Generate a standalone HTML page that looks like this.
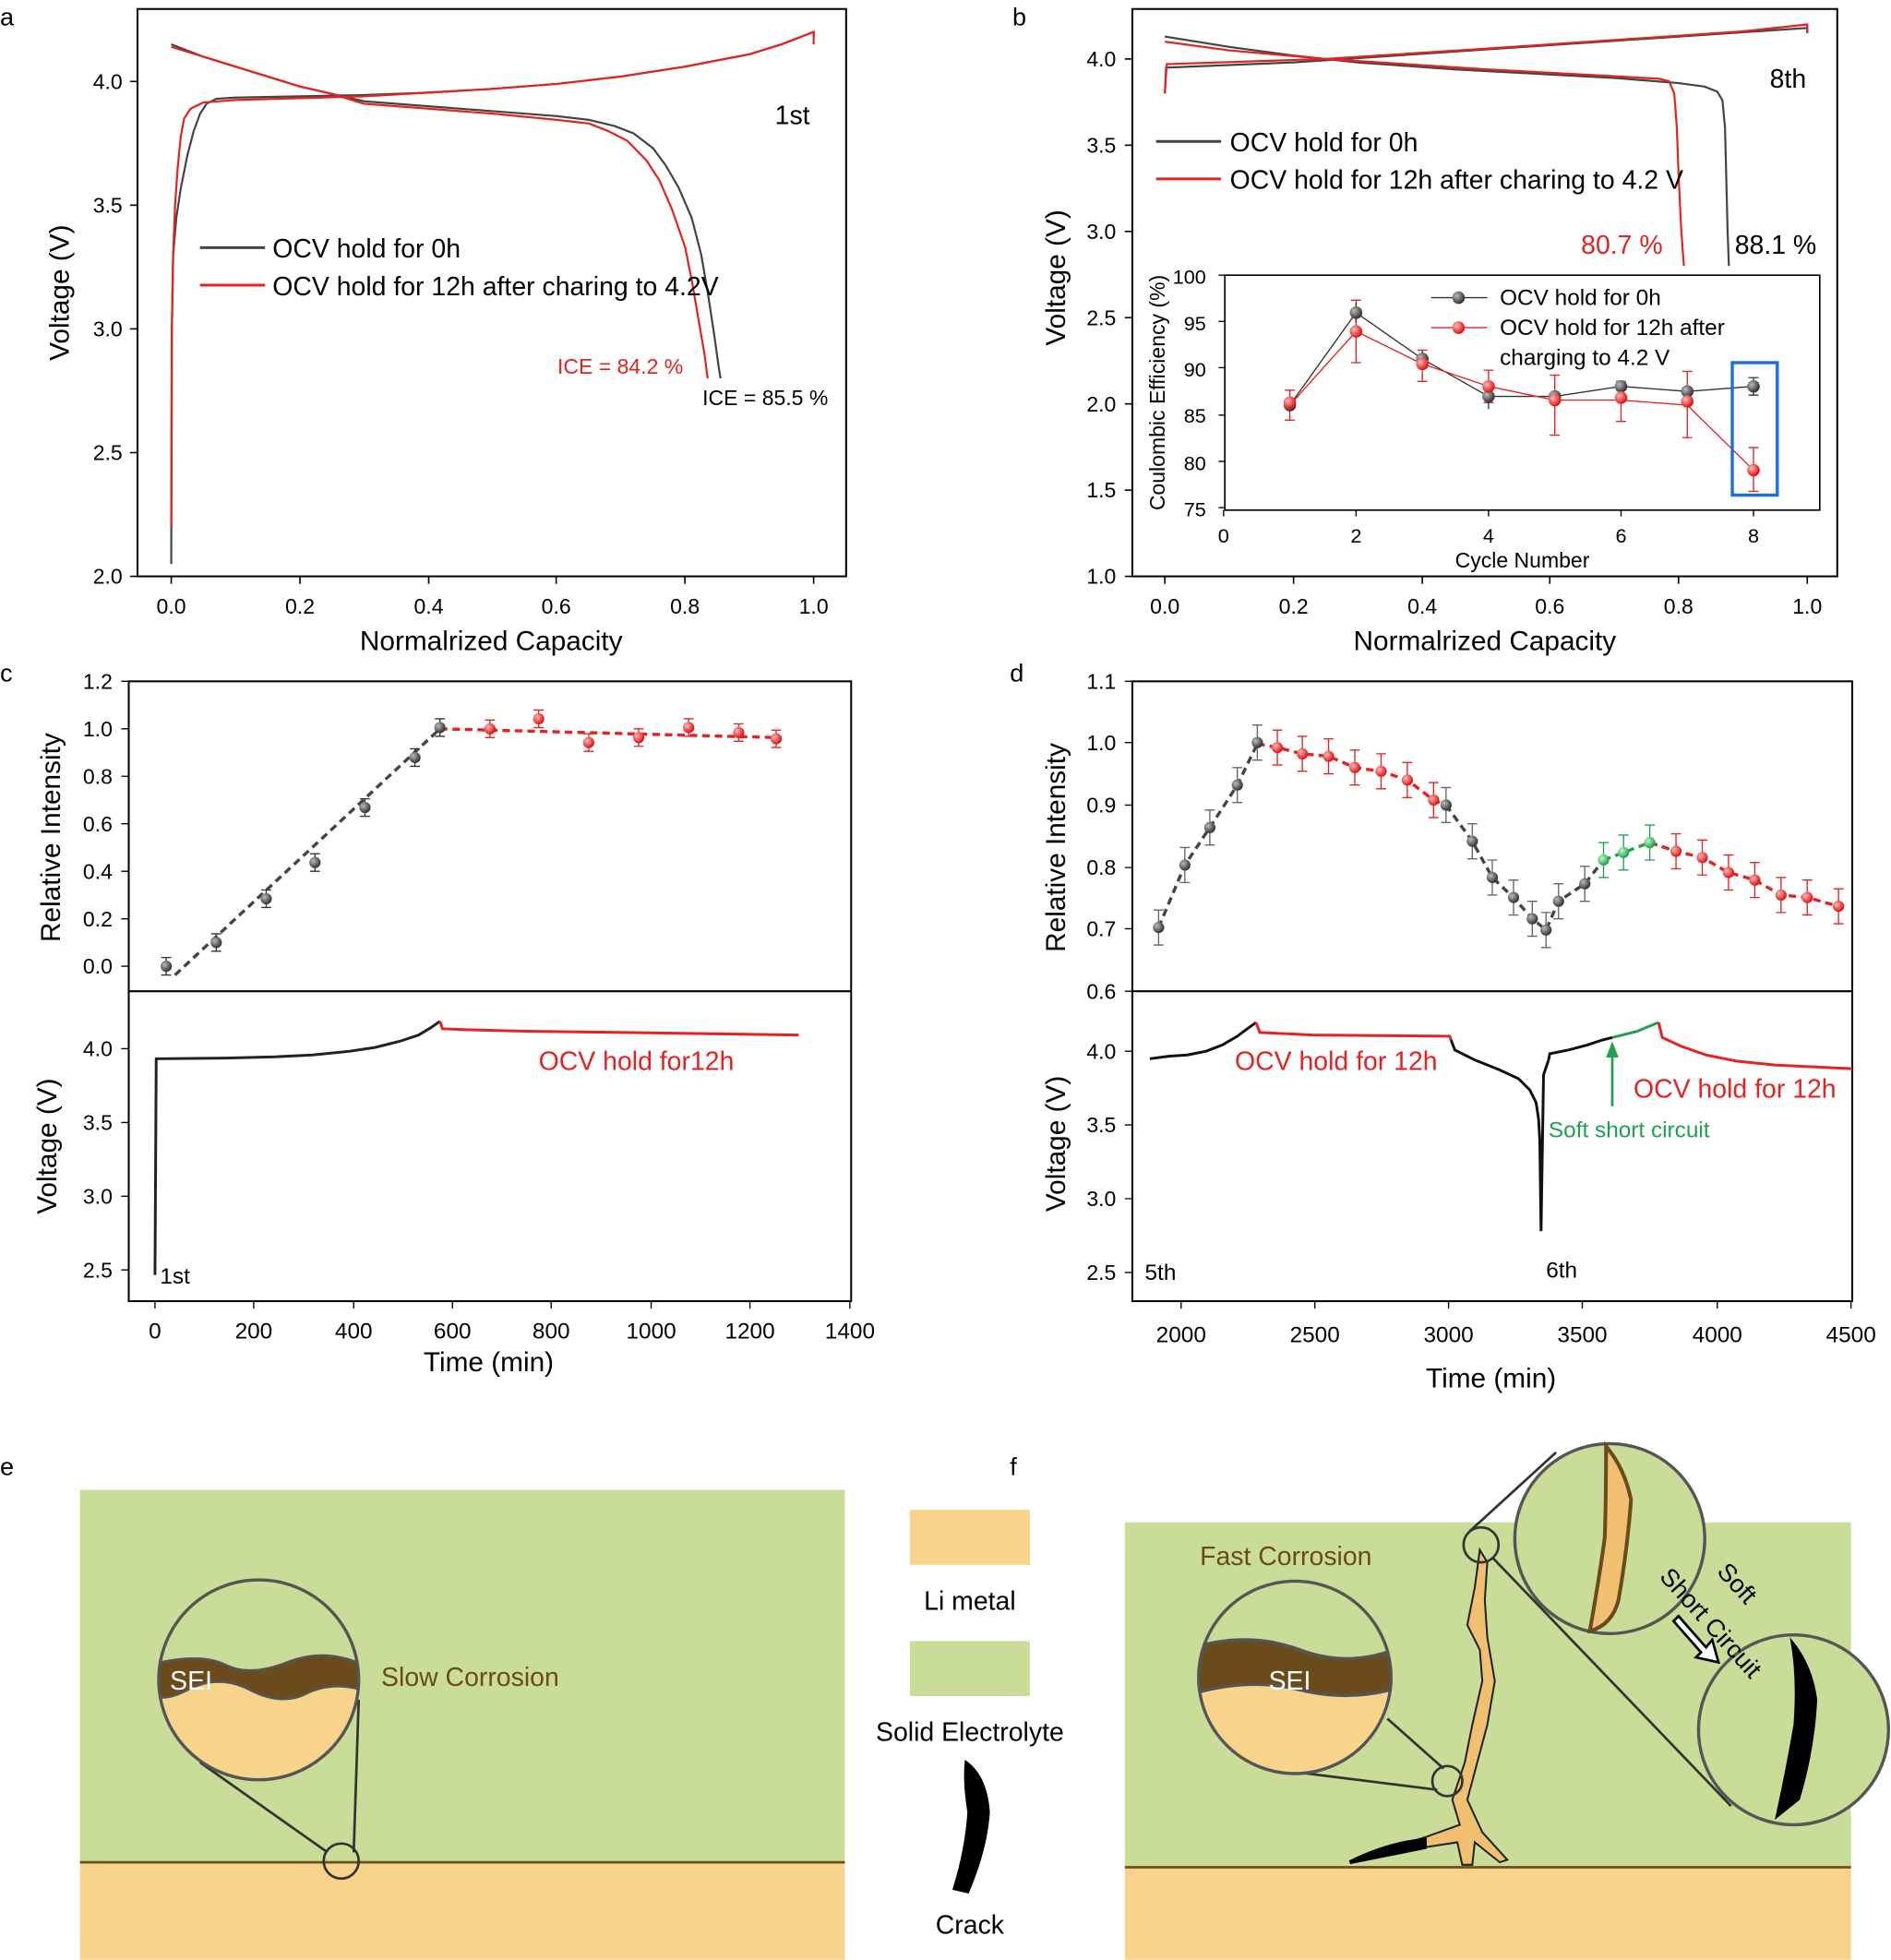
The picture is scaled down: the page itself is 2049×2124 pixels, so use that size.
<!DOCTYPE html>
<html><head><meta charset="utf-8"><style>
html,body{margin:0;padding:0;background:#fff}
svg{display:block}
text{font-family:"Liberation Sans",sans-serif}
.ser{font-family:"Liberation Serif",serif}
</style></head><body>
<svg width="2049" height="2124" viewBox="0 0 1513 1568" xmlns="http://www.w3.org/2000/svg">
<defs>
<radialGradient id="gb" cx="35%" cy="35%" r="65%"><stop offset="0" stop-color="#bbb"/><stop offset="1" stop-color="#333"/></radialGradient>
<radialGradient id="gr" cx="35%" cy="35%" r="65%"><stop offset="0" stop-color="#fbb"/><stop offset="1" stop-color="#e01010"/></radialGradient>
<radialGradient id="gg" cx="35%" cy="35%" r="65%"><stop offset="0" stop-color="#bfb"/><stop offset="1" stop-color="#20a050"/></radialGradient>
</defs>
<g font-size="20">
<text x="0" y="20">a</text><text x="810" y="20">b</text><text x="0" y="545">c</text><text x="808" y="545">d</text>
<text x="0" y="1180">e</text><text x="808" y="1180">f</text>

<!-- Panel a -->
<rect x="110" y="7" width="567" height="454" fill="none" stroke="#000" stroke-width="1.5"/>
<g stroke="#000" stroke-width="1.2">
<line x1="137" y1="461" x2="137" y2="467"/><line x1="240" y1="461" x2="240" y2="467"/><line x1="343" y1="461" x2="343" y2="467"/><line x1="445" y1="461" x2="445" y2="467"/><line x1="548" y1="461" x2="548" y2="467"/><line x1="651" y1="461" x2="651" y2="467"/>
<line x1="104" y1="461" x2="110" y2="461"/><line x1="104" y1="362" x2="110" y2="362"/><line x1="104" y1="263" x2="110" y2="263"/><line x1="104" y1="164" x2="110" y2="164"/><line x1="104" y1="65" x2="110" y2="65"/>
</g>
<g class="ser" font-size="17" text-anchor="middle"><text x="137" y="491">0.0</text><text x="240" y="491">0.2</text><text x="343" y="491">0.4</text><text x="445" y="491">0.6</text><text x="548" y="491">0.8</text><text x="651" y="491">1.0</text></g>
<g font-size="17" text-anchor="end"><text x="98" y="467">2.0</text><text x="98" y="368">2.5</text><text x="98" y="269">3.0</text><text x="98" y="170">3.5</text><text x="98" y="71">4.0</text></g>
<text x="393" y="520" text-anchor="middle" font-size="22">Normalrized Capacity</text>
<text transform="translate(55,234) rotate(-90)" text-anchor="middle" font-size="22">Voltage (V)</text>
<g fill="none" transform="matrix(514 0 0 -198 137 857)">
<polyline vector-effect="non-scaling-stroke" stroke-width="2.2" stroke="#444" points="0,2.05 0.001,3.0 0.003,3.3 0.008,3.45 0.015,3.57 0.025,3.7 0.035,3.8 0.045,3.87 0.055,3.91 0.07,3.93 0.1,3.935 0.3,3.945 0.4,3.955 0.5,3.97 0.6,3.99 0.7,4.02 0.8,4.06 0.9,4.11 0.95,4.15 1.0,4.2 1.0,4.18"/>
<polyline vector-effect="non-scaling-stroke" stroke-width="2.2" stroke="#444" points="0,4.15 0.05,4.1 0.1,4.06 0.15,4.02 0.2,3.98 0.25,3.95 0.3,3.92 0.4,3.9 0.5,3.88 0.6,3.86 0.65,3.845 0.69,3.82 0.72,3.79 0.75,3.73 0.77,3.66 0.79,3.57 0.81,3.45 0.825,3.3 0.835,3.15 0.845,2.98 0.852,2.85 0.855,2.8"/>
<polyline vector-effect="non-scaling-stroke" stroke-width="2.2" stroke="#e52222" points="0,2.2 0.001,3.0 0.003,3.3 0.006,3.5 0.01,3.65 0.015,3.78 0.02,3.85 0.03,3.89 0.05,3.915 0.1,3.925 0.3,3.94 0.4,3.955 0.5,3.97 0.6,3.99 0.7,4.02 0.8,4.06 0.9,4.11 0.95,4.15 1.0,4.2 1.0,4.15"/>
<polyline vector-effect="non-scaling-stroke" stroke-width="2.2" stroke="#e52222" points="0,4.14 0.05,4.1 0.1,4.06 0.15,4.02 0.2,3.98 0.25,3.95 0.3,3.91 0.4,3.89 0.5,3.87 0.6,3.845 0.65,3.83 0.68,3.8 0.71,3.76 0.74,3.68 0.76,3.6 0.78,3.48 0.8,3.33 0.81,3.2 0.82,3.05 0.83,2.9 0.835,2.8"/>
</g>
<text x="620" y="99" font-size="21">1st</text>
<line x1="160" y1="198" x2="212" y2="198" stroke="#444" stroke-width="2.2"/><text x="218" y="206" font-size="21">OCV hold for 0h</text>
<line x1="160" y1="228" x2="212" y2="228" stroke="#e52222" stroke-width="2.2"/><text x="218" y="236" font-size="21">OCV hold for 12h after charing to 4.2V</text>
<text x="446" y="299" font-size="17" fill="#e52222">ICE = 84.2 %</text>
<text x="562" y="324" font-size="17">ICE = 85.5 %</text>

<!-- Panel b -->
<rect x="906" y="7" width="564" height="454" fill="none" stroke="#000" stroke-width="1.5"/>
<g stroke="#000" stroke-width="1.2">
<line x1="932" y1="461" x2="932" y2="467"/><line x1="1035" y1="461" x2="1035" y2="467"/><line x1="1138" y1="461" x2="1138" y2="467"/><line x1="1240" y1="461" x2="1240" y2="467"/><line x1="1343" y1="461" x2="1343" y2="467"/><line x1="1446" y1="461" x2="1446" y2="467"/>
<line x1="900" y1="461" x2="906" y2="461"/><line x1="900" y1="392" x2="906" y2="392"/><line x1="900" y1="323" x2="906" y2="323"/><line x1="900" y1="254" x2="906" y2="254"/><line x1="900" y1="185" x2="906" y2="185"/><line x1="900" y1="116" x2="906" y2="116"/><line x1="900" y1="47" x2="906" y2="47"/>
</g>
<g font-size="17" text-anchor="middle"><text x="932" y="491">0.0</text><text x="1035" y="491">0.2</text><text x="1138" y="491">0.4</text><text x="1240" y="491">0.6</text><text x="1343" y="491">0.8</text><text x="1446" y="491">1.0</text></g>
<g font-size="17" text-anchor="end"><text x="893" y="467">1.0</text><text x="893" y="398">1.5</text><text x="893" y="329">2.0</text><text x="893" y="260">2.5</text><text x="893" y="191">3.0</text><text x="893" y="122">3.5</text><text x="893" y="53">4.0</text></g>
<text x="1188" y="520" text-anchor="middle" font-size="22">Normalrized Capacity</text>
<text transform="translate(852,222) rotate(-90)" text-anchor="middle" font-size="22">Voltage (V)</text>
<g fill="none" transform="matrix(514 0 0 -138 932 599)">
<polyline vector-effect="non-scaling-stroke" stroke-width="2.2" stroke="#444" points="0,3.8 0.002,3.95 0.2,3.98 0.4,4.03 0.6,4.08 0.8,4.13 1.0,4.18 1.0,4.15"/>
<polyline vector-effect="non-scaling-stroke" stroke-width="2.2" stroke="#444" points="0,4.13 0.05,4.1 0.1,4.07 0.2,4.02 0.3,3.98 0.45,3.94 0.6,3.91 0.7,3.89 0.8,3.86 0.84,3.84 0.86,3.81 0.868,3.76 0.872,3.6 0.874,3.3 0.876,3.0 0.878,2.8"/>
<polyline vector-effect="non-scaling-stroke" stroke-width="2.2" stroke="#e52222" points="0,3.8 0.003,3.97 0.25,4.0 0.5,4.06 0.7,4.11 0.9,4.16 1.0,4.2 1.0,4.15"/>
<polyline vector-effect="non-scaling-stroke" stroke-width="2.2" stroke="#e52222" points="0,4.1 0.1,4.05 0.25,4.0 0.5,3.94 0.7,3.9 0.77,3.885 0.785,3.87 0.793,3.8 0.797,3.6 0.8,3.3 0.804,3.0 0.808,2.8"/>
</g>
<text x="1416" y="70" font-size="21">8th</text>
<line x1="925" y1="113" x2="977" y2="113" stroke="#444" stroke-width="2.2"/><text x="984" y="121" font-size="21">OCV hold for 0h</text>
<line x1="925" y1="143" x2="977" y2="143" stroke="#e52222" stroke-width="2.2"/><text x="984" y="151" font-size="21">OCV hold for 12h after charing to 4.2 V</text>
<text x="1265" y="203" fill="#e52222" font-size="21">80.7 %</text><text x="1388" y="203" font-size="21">88.1 %</text>
<!-- inset -->
<rect x="980" y="220" width="476" height="188" fill="#fff" stroke="#000" stroke-width="1.2"/>
<g stroke="#000"><line x1="979" y1="408" x2="979" y2="413"/><line x1="1085" y1="408" x2="1085" y2="413"/><line x1="1191" y1="408" x2="1191" y2="413"/><line x1="1297" y1="408" x2="1297" y2="413"/><line x1="1403" y1="408" x2="1403" y2="413"/></g>
<g font-size="16" text-anchor="middle"><text x="979" y="434">0</text><text x="1085" y="434">2</text><text x="1191" y="434">4</text><text x="1297" y="434">6</text><text x="1403" y="434">8</text></g>
<text x="1218" y="454" font-size="17" text-anchor="middle">Cycle Number</text>
<g font-size="16" text-anchor="end"><text x="965" y="227">100</text><text x="965" y="264">95</text><text x="965" y="301">90</text><text x="965" y="338">85</text><text x="965" y="376">80</text><text x="965" y="413">75</text></g>
<g stroke="#000"><line x1="975" y1="220" x2="980" y2="220"/><line x1="975" y1="257" x2="980" y2="257"/><line x1="975" y1="294" x2="980" y2="294"/><line x1="975" y1="332" x2="980" y2="332"/><line x1="975" y1="369" x2="980" y2="369"/><line x1="975" y1="406" x2="980" y2="406"/></g>
<text transform="translate(932,314) rotate(-90)" text-anchor="middle" font-size="17">Coulombic Efficiency (%)</text>
<polyline fill="none" stroke="#333" stroke-width="1" points="1032,324 1085,250 1138,287 1191,317 1244,317 1297,309 1350,313 1403,309"/>
<polyline fill="none" stroke="#e52222" stroke-width="1" points="1032,324 1085,265 1138,291 1191,309 1244,320 1297,320 1350,324 1403,376"/>
<g stroke="#e52222" stroke-width="1"><path d="M1032 312V336M1085 240V290M1138 280V305M1191 296V322M1244 300V348M1297 305V337M1350 297V350M1403 358V393M1028 312H1036M1028 336H1036M1081 240H1089M1081 290H1089M1134 280H1142M1134 305H1142M1187 296H1195M1187 322H1195M1240 300H1248M1240 348H1248M1293 305H1301M1293 337H1301M1346 297H1354M1346 350H1354M1399 358H1407M1399 393H1407"/></g>
<g stroke="#333"><path d="M1085 242V258M1138 281V293M1191 308V327M1403 302V316M1399 302H1407M1399 316H1407"/></g>
<g fill="url(#gb)"><circle cx="1032" cy="324" r="5"/><circle cx="1085" cy="250" r="5"/><circle cx="1138" cy="287" r="5"/><circle cx="1191" cy="317" r="5"/><circle cx="1244" cy="317" r="5"/><circle cx="1297" cy="309" r="5"/><circle cx="1350" cy="313" r="5"/><circle cx="1403" cy="309" r="5"/></g>
<g fill="url(#gr)"><circle cx="1032" cy="322" r="5"/><circle cx="1085" cy="265" r="5"/><circle cx="1138" cy="291" r="5"/><circle cx="1191" cy="309" r="5"/><circle cx="1244" cy="320" r="5"/><circle cx="1297" cy="318" r="5"/><circle cx="1350" cy="321" r="5"/><circle cx="1403" cy="376" r="5"/></g>
<rect x="1386" y="290" width="36" height="106" fill="none" stroke="#1a6ee0" stroke-width="2.5"/>
<line x1="1145" y1="238" x2="1190" y2="238" stroke="#333"/><circle cx="1167" cy="238" r="5" fill="url(#gb)"/><text x="1200" y="244" font-size="18">OCV hold for 0h</text>
<line x1="1145" y1="262" x2="1190" y2="262" stroke="#e52222"/><circle cx="1167" cy="262" r="5" fill="url(#gr)"/><text x="1200" y="268" font-size="18">OCV hold for 12h after</text>
<text x="1200" y="292" font-size="18">charging to 4.2 V</text>

<!-- Panel c -->
<rect x="103" y="545" width="578" height="496" fill="none" stroke="#000" stroke-width="1.5"/>
<line x1="103" y1="793" x2="681" y2="793" stroke="#000" stroke-width="1.5"/>
<g stroke="#000"><path d="M97 545H103M97 583H103M97 621H103M97 659H103M97 697H103M97 735H103M97 773H103M97 839H103M97 898H103M97 957H103M97 1016H103"/>
<path d="M124 1041V1047M203 1041V1047M283 1041V1047M362 1041V1047M441 1041V1047M521 1041V1047M600 1041V1047M680 1041V1047"/></g>
<g class="ser" font-size="17" text-anchor="end"><text x="90" y="551">1.2</text><text x="90" y="589">1.0</text><text x="90" y="627">0.8</text><text x="90" y="665">0.6</text><text x="90" y="703">0.4</text><text x="90" y="741">0.2</text><text x="90" y="779">0.0</text></g>
<g font-size="17" text-anchor="end"><text x="90" y="845">4.0</text><text x="90" y="904">3.5</text><text x="90" y="963">3.0</text><text x="90" y="1022">2.5</text></g>
<g font-size="18" text-anchor="middle"><text x="124" y="1071">0</text><text x="203" y="1071">200</text><text x="283" y="1071">400</text><text x="362" y="1071">600</text><text x="441" y="1071">800</text><text x="521" y="1071">1000</text><text x="600" y="1071">1200</text><text x="680" y="1071">1400</text></g>
<text x="391" y="1097" text-anchor="middle" font-size="22">Time (min)</text>
<text transform="translate(48,670) rotate(-90)" text-anchor="middle" font-size="22">Relative Intensity</text>
<text transform="translate(45,917) rotate(-90)" text-anchor="middle" font-size="22">Voltage (V)</text>
<line x1="140" y1="780" x2="352" y2="583" stroke="#444" stroke-width="2.5" stroke-dasharray="6,4"/>
<line x1="352" y1="583" x2="621" y2="590" stroke="#e52222" stroke-width="2.5" stroke-dasharray="6,4"/>
<g stroke="#333" stroke-width="1"><path d="M133 766V780M129 766H137M129 780H137M173 747V761M169 747H177M169 761H177M213 712V726M209 712H217M209 726H217M252 683V697M248 683H256M248 697H256M292 639V653M288 639H296M288 653H296M332 599V613M328 599H336M328 613H336M352 575V589M348 575H356M348 589H356"/></g>
<g stroke="#e52222" stroke-width="1"><path d="M392 576V590M388 576H396M388 590H396M431 568V582M427 568H435M427 582H435M471 587V601M467 587H475M467 601H475M511 583V597M507 583H515M507 597H515M551 575V589M547 575H555M547 589H555M591 579V593M587 579H595M587 593H595M621 584V598M617 584H625M617 598H625"/></g>
<g fill="url(#gb)"><circle cx="133" cy="773" r="4.5"/><circle cx="173" cy="754" r="4.5"/><circle cx="213" cy="719" r="4.5"/><circle cx="252" cy="690" r="4.5"/><circle cx="292" cy="646" r="4.5"/><circle cx="332" cy="606" r="4.5"/><circle cx="352" cy="582" r="4.5"/></g>
<g fill="url(#gr)"><circle cx="392" cy="583" r="4.5"/><circle cx="431" cy="575" r="4.5"/><circle cx="471" cy="594" r="4.5"/><circle cx="511" cy="590" r="4.5"/><circle cx="551" cy="582" r="4.5"/><circle cx="591" cy="586" r="4.5"/><circle cx="621" cy="591" r="4.5"/></g>
<polyline fill="none" stroke="#222" stroke-width="2.2" points="124,1020 125,847 130,847 180,846.5 220,845.5 250,844 280,841 300,838 320,833 335,828 345,822 352,817"/>
<polyline fill="none" stroke="#e52222" stroke-width="2.2" points="352,817 354,823 380,824 420,825 500,826 639,828"/>
<text x="431" y="856" fill="#e52222" font-size="21">OCV hold for12h</text>
<text x="128" y="1027" font-size="18">1st</text>

<!-- Panel d -->
<rect x="906" y="545" width="576" height="496" fill="none" stroke="#000" stroke-width="1.5"/>
<line x1="906" y1="793" x2="1482" y2="793" stroke="#000" stroke-width="1.5"/>
<g stroke="#000"><path d="M900 545H906M900 594H906M900 644H906M900 694H906M900 743H906M900 793H906M900 841H906M900 900H906M900 959H906M900 1018H906"/>
<path d="M945 1041V1047M1052 1041V1047M1159 1041V1047M1266 1041V1047M1374 1041V1047M1481 1041V1047"/></g>
<g font-size="17" text-anchor="end"><text x="893" y="551">1.1</text><text x="893" y="600">1.0</text><text x="893" y="650">0.9</text><text x="893" y="700">0.8</text><text x="893" y="749">0.7</text><text x="893" y="799">0.6</text><text x="893" y="847">4.0</text><text x="893" y="906">3.5</text><text x="893" y="965">3.0</text><text x="893" y="1024">2.5</text></g>
<g font-size="18" text-anchor="middle"><text x="945" y="1074">2000</text><text x="1052" y="1074">2500</text><text x="1159" y="1074">3000</text><text x="1266" y="1074">3500</text><text x="1374" y="1074">4000</text><text x="1481" y="1074">4500</text></g>
<text x="1193" y="1110" text-anchor="middle" font-size="22">Time (min)</text>
<text transform="translate(852,678) rotate(-90)" text-anchor="middle" font-size="22">Relative Intensity</text>
<text transform="translate(852,915) rotate(-90)" text-anchor="middle" font-size="22">Voltage (V)</text>
<g stroke="#666" stroke-width="1"><path d="M927 728V756M948 678V706M968 648V676M990 614V642M1006 580V608M1157 630V658M1178 659V687M1194 688V716M1211 704V732M1226 721V749M1237 730V758M1247 707V735M1268 693V721"/>
<path d="M923 728H931M923 756H931M944 678H952M944 706H952M964 648H972M964 676H972M986 614H994M986 642H994M1002 580H1010M1002 608H1010M1153 630H1161M1153 658H1161M1174 659H1182M1174 687H1182M1190 688H1198M1190 716H1198M1207 704H1215M1207 732H1215M1222 721H1230M1222 749H1230M1233 730H1241M1233 758H1241M1243 707H1251M1243 735H1251M1264 693H1272M1264 721H1272"/></g>
<g stroke="#e52222" stroke-width="1"><path d="M1022 584V612M1042 589V617M1063 591V619M1084 600V628M1105 603V631M1126 610V638M1147 626V654M1341 667V695M1362 672V700M1383 684V712M1404 690V718M1425 702V730M1446 704V732M1471 711V739"/>
<path d="M1018 584H1026M1018 612H1026M1038 589H1046M1038 617H1046M1059 591H1067M1059 619H1067M1080 600H1088M1080 628H1088M1101 603H1109M1101 631H1109M1122 610H1130M1122 638H1130M1143 626H1151M1143 654H1151M1337 667H1345M1337 695H1345M1358 672H1366M1358 700H1366M1379 684H1387M1379 712H1387M1400 690H1408M1400 718H1408M1421 702H1429M1421 730H1429M1442 704H1450M1442 732H1450M1467 711H1475M1467 739H1475"/></g>
<g stroke="#20a050" stroke-width="1"><path d="M1283 674V702M1299 668V696M1320 660V688M1279 674H1287M1279 702H1287M1295 668H1303M1295 696H1303M1316 660H1324M1316 688H1324"/></g>
<polyline fill="none" stroke="#444" stroke-width="2.5" stroke-dasharray="6,4" points="927,742 948,692 968,662 990,628 1006,595"/>
<polyline fill="none" stroke="#e52222" stroke-width="2.5" stroke-dasharray="6,4" points="1006,595 1022,598 1042,603 1063,605 1084,614 1105,617 1126,624 1147,640 1157,644"/>
<polyline fill="none" stroke="#444" stroke-width="2.5" stroke-dasharray="6,4" points="1157,644 1178,673 1194,702 1211,718 1226,735 1237,744 1247,721 1268,707 1283,688"/>
<polyline fill="none" stroke="#20a050" stroke-width="2.5" stroke-dasharray="6,4" points="1283,688 1299,682 1320,674 1341,681"/>
<polyline fill="none" stroke="#e52222" stroke-width="2.5" stroke-dasharray="6,4" points="1320,674 1341,681 1362,686 1383,698 1404,704 1425,716 1446,718 1471,725"/>
<g fill="url(#gb)"><circle cx="927" cy="742" r="4.5"/><circle cx="948" cy="692" r="4.5"/><circle cx="968" cy="662" r="4.5"/><circle cx="990" cy="628" r="4.5"/><circle cx="1006" cy="594" r="4.5"/><circle cx="1157" cy="644" r="4.5"/><circle cx="1178" cy="673" r="4.5"/><circle cx="1194" cy="702" r="4.5"/><circle cx="1211" cy="718" r="4.5"/><circle cx="1226" cy="735" r="4.5"/><circle cx="1237" cy="744" r="4.5"/><circle cx="1247" cy="721" r="4.5"/><circle cx="1268" cy="707" r="4.5"/></g>
<g fill="url(#gr)"><circle cx="1022" cy="598" r="4.5"/><circle cx="1042" cy="603" r="4.5"/><circle cx="1063" cy="605" r="4.5"/><circle cx="1084" cy="614" r="4.5"/><circle cx="1105" cy="617" r="4.5"/><circle cx="1126" cy="624" r="4.5"/><circle cx="1147" cy="640" r="4.5"/><circle cx="1341" cy="681" r="4.5"/><circle cx="1362" cy="686" r="4.5"/><circle cx="1383" cy="698" r="4.5"/><circle cx="1404" cy="704" r="4.5"/><circle cx="1425" cy="716" r="4.5"/><circle cx="1446" cy="718" r="4.5"/><circle cx="1471" cy="725" r="4.5"/></g>
<g fill="url(#gg)"><circle cx="1283" cy="688" r="4.5"/><circle cx="1299" cy="682" r="4.5"/><circle cx="1320" cy="674" r="4.5"/></g>
<polyline fill="none" stroke="#111" stroke-width="2.2" points="920,847 935,845 950,844 965,841 978,836 990,829 998,823 1005,818"/>
<polyline fill="none" stroke="#e52222" stroke-width="2.2" points="1005,818 1008,826 1050,828 1160,829 1161,832"/>
<polyline fill="none" stroke="#111" stroke-width="2.2" points="1161,832 1164,840 1180,848 1200,856 1215,863 1224,872 1229,882 1231,895 1232,912 1233,985 1235,860 1239,848 1240,843 1255,840 1270,836 1282,832 1290,830"/>
<polyline fill="none" stroke="#20a050" stroke-width="2.2" points="1290,830 1310,825 1327,818"/>
<polyline fill="none" stroke="#e52222" stroke-width="2.2" points="1327,818 1330,830 1345,837 1365,844 1390,849 1420,852 1460,854 1482,855"/>
<text x="988" y="856" fill="#e52222" font-size="21">OCV hold for 12h</text>
<text x="1307" y="878" fill="#e52222" font-size="21">OCV hold for 12h</text>
<line x1="1290" y1="885" x2="1290" y2="842" stroke="#20a050" stroke-width="2"/><polygon points="1285,846 1295,846 1290,833" fill="#20a050"/>
<text x="1239" y="910" fill="#20a050" font-size="18">Soft short circuit</text>
<text x="916" y="1024" font-size="18">5th</text><text x="1237" y="1022" font-size="18">6th</text>

<!-- Panel e -->
<rect x="64" y="1192" width="612" height="298" fill="#c9dd98"/>
<rect x="64" y="1490" width="612" height="78" fill="#f8d38c"/>
<line x1="64" y1="1490" x2="676" y2="1490" stroke="#6b5020" stroke-width="2"/>
<line x1="160" y1="1410" x2="262" y2="1482" stroke="#333" stroke-width="2"/>
<line x1="287" y1="1360" x2="283" y2="1482" stroke="#333" stroke-width="2"/>
<circle cx="273" cy="1489" r="14" fill="none" stroke="#333" stroke-width="2"/>
<clipPath id="ce"><circle cx="207" cy="1344" r="80"/></clipPath>
<g clip-path="url(#ce)"><rect x="120" y="1260" width="180" height="170" fill="#c9dd98"/><rect x="120" y="1345" width="180" height="90" fill="#f8d38c"/>
<path d="M120 1332 Q160 1322 180 1332 T230 1330 T290 1332 V1352 Q265 1345 245 1355 T200 1352 T150 1352 T120 1350Z" fill="#6b4a1c" stroke="#555" stroke-width="2"/></g>
<circle cx="207" cy="1344" r="80" fill="none" stroke="#555" stroke-width="2.5"/>
<text x="136" y="1352" fill="#fff" font-size="21">SEI</text>
<text x="305" y="1349" fill="#6b4a1c" font-size="21">Slow Corrosion</text>
<rect x="728" y="1208" width="96" height="44" fill="#f8d38c"/><text x="776" y="1288" text-anchor="middle" font-size="21">Li metal</text>
<rect x="728" y="1313" width="96" height="44" fill="#c9dd98"/><text x="776" y="1393" text-anchor="middle" font-size="21">Solid Electrolyte</text>
<path d="M772 1408 Q790 1420 792 1450 Q790 1480 775 1515 L762 1512 Q772 1480 774 1450 Q770 1425 772 1408Z" fill="#000"/>
<text x="776" y="1547" text-anchor="middle" font-size="21">Crack</text>

<!-- Panel f -->
<rect x="900" y="1218" width="581" height="276" fill="#c9dd98"/>
<rect x="900" y="1494" width="581" height="74" fill="#f8d38c"/>
<line x1="900" y1="1494" x2="1481" y2="1494" stroke="#6b5020" stroke-width="2"/>
<text x="960" y="1252" fill="#6b4a1c" font-size="21">Fast Corrosion</text>
<path d="M1184 1240 L1180 1270 L1174 1300 L1184 1320 L1186 1345 L1178 1380 L1172 1410 L1162 1440 L1168 1460 L1140 1470 L1085 1488 L1140 1478 L1166 1474 L1170 1492 L1178 1492 L1180 1474 L1200 1490 L1206 1488 L1186 1466 L1174 1440 L1182 1410 L1190 1380 L1196 1345 L1190 1310 L1188 1280 L1190 1250Z" fill="#f0c070" stroke="#222" stroke-width="1.5"/>
<path d="M1080 1490 Q1110 1475 1140 1472 L1140 1478 Q1110 1484 1080 1490Z" fill="#000" stroke="#000" stroke-width="3"/>
<circle cx="1185" cy="1236" r="14" fill="none" stroke="#333" stroke-width="2"/>
<circle cx="1158" cy="1425" r="12" fill="none" stroke="#333" stroke-width="2"/>
<line x1="1110" y1="1375" x2="1155" y2="1415" stroke="#333" stroke-width="2"/>
<line x1="1030" y1="1417" x2="1150" y2="1432" stroke="#333" stroke-width="2"/>
<line x1="1176" y1="1225" x2="1245" y2="1162" stroke="#333" stroke-width="2"/>
<line x1="1194" y1="1246" x2="1385" y2="1445" stroke="#333" stroke-width="2"/>
<clipPath id="cf"><circle cx="1036" cy="1342" r="77"/></clipPath>
<g clip-path="url(#cf)"><rect x="950" y="1260" width="180" height="170" fill="#c9dd98"/><rect x="950" y="1340" width="180" height="90" fill="#f8d38c"/>
<path d="M955 1318 Q1000 1305 1040 1320 T1120 1318 V1350 Q1080 1362 1040 1352 T955 1355Z" fill="#6b4a1c" stroke="#555" stroke-width="2.5"/></g>
<circle cx="1036" cy="1342" r="77" fill="none" stroke="#555" stroke-width="2.5"/>
<text x="1015" y="1352" fill="#fff" font-size="21">SEI</text>
<circle cx="1288" cy="1231" r="76" fill="#c9dd98" stroke="#555" stroke-width="2.5"/>
<path d="M1285 1157 Q1300 1175 1305 1200 Q1302 1240 1295 1280 Q1290 1300 1272 1305 Q1280 1260 1284 1230 Q1285 1200 1285 1157Z" fill="#f0c070" stroke="#6b4a1c" stroke-width="3"/>
<circle cx="1435" cy="1384" r="76" fill="#c9dd98" stroke="#555" stroke-width="2.5"/>
<path d="M1432 1310 Q1450 1330 1454 1360 Q1452 1400 1440 1440 L1420 1456 Q1428 1420 1435 1380 Q1438 1340 1432 1310Z" fill="#000"/>
<text transform="translate(1373,1258) rotate(48)" font-size="20">Soft</text>
<text transform="translate(1327,1262) rotate(48)" font-size="20">Short Circuit</text>
<path d="M1343 1293 L1365 1318 L1370 1312 L1375 1330 L1357 1326 L1361 1322 L1339 1297Z" fill="#fff" stroke="#000" stroke-width="2"/>
</g>
</svg>
</body></html>
